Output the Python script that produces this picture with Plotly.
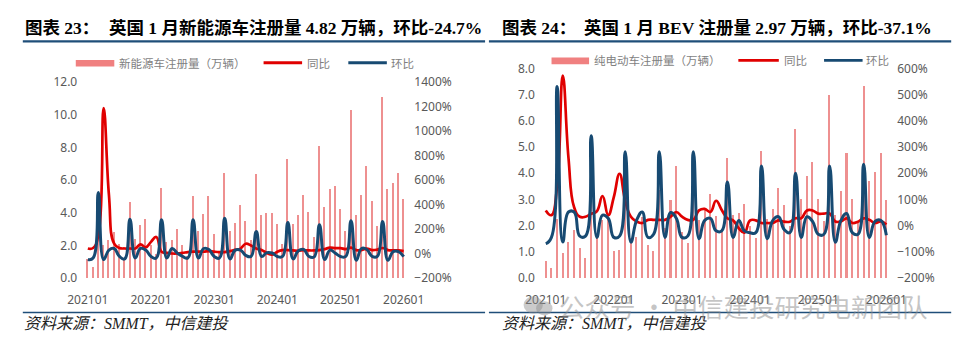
import plotly.graph_objects as go

# ---------------- data ----------------
months = [f"{y}{m:02d}" for y in range(2021, 2027) for m in range(1, 13)][:61]
year_ticks = ["202101", "202201", "202301", "202401", "202501", "202601"]

# Chart 23: UK NEV registrations (万辆), YoY %, MoM %
nev_reg = [1.15, 0.70, 4.10, 2.00, 2.30, 2.80, 2.10, 1.23, 4.66, 2.40, 3.26, 3.60,
           2.00, 1.47, 5.53, 2.20, 2.30, 3.03, 2.00, 1.35, 5.05, 2.87, 3.94, 5.05,
           2.68, 1.66, 6.43, 2.90, 3.36, 4.47, 3.50, 2.30, 6.37, 3.85, 4.00, 4.00,
           3.30, 2.10, 7.30, 3.30, 3.85, 5.07, 4.04, 2.50, 8.11, 4.37, 5.46, 5.65,
           4.23, 2.87, 10.30, 3.88, 5.09, 6.86, 4.72, 3.17, 11.09, 5.44, 5.79, 6.40,
           4.82]
nev_yoy = [41, 45, 150, 1187, 480, 80, 45, 41, 41, 41, 75, 50,
           95, 135, 15, 5, 0, 0, 5, 12, 15, 15, 15, 20,
           15, 12, 12, 20, 30, 40, 80, 65, 40, 28, 5, -10,
           15, 28, 28, 25, 22, 28, 25, 25, 28, 36, 48, 44,
           44, 36, 48, 28, 28, 40, 28, 32, 45, 28, 25, 25,
           20]
nev_mom = [-49, -37, 499, -49, 28, 41, -24, -44, 280, -37, 41, 28,
           -24, -37, 275, -37, 41, 3, -24, -37, 275, -37, 41, 33,
           -24, -37, 287, -44, 28, 28, -15, -24, 179, -24, 7, 4,
           -24, -24, 253, -44, 23, 33, -24, -27, 235, -49, 28, 3,
           -24, -24, 267, -55, 41, 33, -24, -24, 261, -55, 15, 15,
           -25]

# Chart 24: UK BEV registrations (万辆), YoY %, MoM %
bev_reg = [0.64, 0.38, 2.22, 0.93, 1.34, 1.80, 1.13, 0.76, 3.30, 1.55, 2.20, 2.40,
           1.00, 1.04, 3.90, 1.50, 1.55, 2.30, 1.25, 1.03, 3.35, 1.90, 2.95, 4.25,
           1.73, 1.30, 4.55, 2.20, 2.60, 3.19, 2.34, 1.73, 4.55, 2.40, 2.46, 2.80,
           1.98, 1.52, 4.85, 2.25, 2.60, 3.43, 2.76, 1.98, 5.67, 3.00, 3.89, 4.40,
           2.98, 2.16, 6.97, 2.40, 3.31, 4.74, 3.00, 2.10, 7.31, 3.67, 4.04, 4.74,
           2.97]
bev_yoy = [58, 40, 150, 573, 260, 70, 34, 34, 45, 55, 113, 40,
           110, 198, 95, 34, 16, 10, 22, 22, 22, 22, 34, 52,
           34, 22, 22, 58, 64, 52, 95, 60, 28, 20, -10, -27,
           20, 20, 10, 10, 10, 20, 15, 15, 28, 28, 58, 58,
           46, 46, 46, 16, 16, 28, 10, 15, 28, 22, 10, 16,
           4]
bev_mom = [-69, -45, 531, -63, 52, 52, -40, -40, 343, -45, 40, 28,
           -45, -40, 282, -63, 20, 52, -45, -33, 282, -45, 50, 28,
           -45, -40, 282, -50, 20, 28, -20, -20, 167, -45, 20, -20,
           -27, -27, 228, -50, 20, 34, -15, -27, 200, -45, 34, 16,
           -33, -33, 228, -63, 20, 46, -27, -33, 234, -45, 16, 20,
           -37]

# ---------------- style ----------------
W, H = 974, 351
BAR_C = "#EE9090"
RED_C = "#E00000"
BLUE_C = "#174A72"
TICK_FONT = dict(family="Noto Sans, DejaVu Sans", size=12, color="#595959")
LEG_FONT = dict(family="Noto Sans CJK SC", size=11.5, color="#7F7F7F")
TITLE_FONT = dict(family="Liberation Serif, Noto Sans CJK SC", size=17.5, color="#000000")
SRC_FONT = dict(family="Liberation Serif, Noto Sans CJK SC", size=16, color="#222222")
RULE_C = "#1F4E79"
SMOOTH = 1.3


def X(px):
    return px / W


def Y(py):
    return 1 - py / H


fig = go.Figure()

# left chart
fig.add_trace(go.Bar(x=months, y=nev_reg, marker=dict(color=BAR_C, line=dict(width=0)),
                     width=0.27, xaxis="x", yaxis="y", showlegend=False))
fig.add_trace(go.Scatter(x=months, y=nev_yoy, mode="lines",
                         line=dict(color=RED_C, width=2.7, shape="spline", smoothing=SMOOTH),
                         xaxis="x", yaxis="y2", showlegend=False))
fig.add_trace(go.Scatter(x=months, y=nev_mom, mode="lines",
                         line=dict(color=BLUE_C, width=3, shape="spline", smoothing=SMOOTH),
                         xaxis="x", yaxis="y2", showlegend=False))
# right chart
fig.add_trace(go.Bar(x=months, y=bev_reg, marker=dict(color=BAR_C, line=dict(width=0)),
                     width=0.27, xaxis="x2", yaxis="y3", showlegend=False))
fig.add_trace(go.Scatter(x=months, y=bev_yoy, mode="lines",
                         line=dict(color=RED_C, width=2.7, shape="spline", smoothing=SMOOTH),
                         xaxis="x2", yaxis="y4", showlegend=False))
fig.add_trace(go.Scatter(x=months, y=bev_mom, mode="lines",
                         line=dict(color=BLUE_C, width=3, shape="spline", smoothing=SMOOTH),
                         xaxis="x2", yaxis="y4", showlegend=False))

common_x = dict(type="category", range=[-0.5, 60.5], tickvals=year_ticks, ticktext=year_ticks,
                showgrid=False, zeroline=False, showline=False, ticks="",
                tickfont=TICK_FONT, ticklabelstandoff=13, fixedrange=True)
common_y = dict(showgrid=False, zeroline=False, showline=False, ticks="",
                tickfont=TICK_FONT, ticklabelstandoff=7, fixedrange=True)

fig.update_layout(
    width=W, height=H,
    margin=dict(l=0, r=0, t=0, b=0),
    paper_bgcolor="white", plot_bgcolor="rgba(0,0,0,0)",
    bargap=0,
    xaxis=dict(domain=[X(69.8), X(403.2)], anchor="y", **common_x),
    yaxis=dict(domain=[Y(282.7), Y(76.7)], anchor="x", range=[0, 12], dtick=2,
               tickformat=".1f", **common_y),
    yaxis2=dict(overlaying="y", side="right", anchor="x", range=[-200, 1400], dtick=200,
                ticksuffix="%", **common_y),
    xaxis2=dict(domain=[X(545.05), X(904.65)], anchor="y3", **common_x),
    yaxis3=dict(domain=[Y(282.7), Y(62.5)], anchor="x2", range=[0, 8], dtick=1,
                tickformat=".1f", **common_y),
    yaxis4=dict(overlaying="y3", side="right", anchor="x2", range=[-200, 600], dtick=100,
                ticksuffix="%", **common_y),
)

shapes = []
annotations = []

# title rules and bottom rules
for x0, x1 in [(5, 485), (489, 969)]:
    shapes.append(dict(type="line", xref="paper", yref="paper", x0=X(x0), x1=X(x1),
                       y0=Y(34), y1=Y(34), line=dict(color=RULE_C, width=2.2)))
    shapes.append(dict(type="line", xref="paper", yref="paper", x0=X(x0), x1=X(x1),
                       y0=Y(319), y1=Y(319), line=dict(color=RULE_C, width=1.6)))


def text(x, y, s, font, xanchor="left"):
    annotations.append(dict(xref="paper", yref="paper", x=X(x), y=Y(y), text=s,
                            showarrow=False, xanchor=xanchor, yanchor="middle",
                            font=font, align="left"))


# titles
text(5, 20, "<b>图表 23：</b>", TITLE_FONT)
text(92, 20, "<b>英国 1 月新能源车注册量 4.82 万辆，环比-24.7%</b>", TITLE_FONT)
text(500, 20, "<b>图表 24：</b>", TITLE_FONT)
text(586, 20, "<b>英国 1 月 BEV 注册量 2.97 万辆，环比-37.1%</b>", TITLE_FONT)

# sources
text(4, 331, "<i>资料来源：SMMT，中信建投</i>", SRC_FONT)
text(500, 331, "<i>资料来源：SMMT，中信建投</i>", SRC_FONT)


# legends (manual)
def legend(rx0, rx1, ry, label_bar, lx, bx0, bx1, tx_tb, hx0, hx1, tx_hb, ty):
    shapes.append(dict(type="rect", xref="paper", yref="paper", x0=X(rx0), x1=X(rx1),
                       y0=Y(ry + 3.5), y1=Y(ry - 3.5), fillcolor="#F08080", line=dict(width=0)))
    text(lx, ty, label_bar, LEG_FONT)
    shapes.append(dict(type="line", xref="paper", yref="paper", x0=X(bx0), x1=X(bx1),
                       y0=Y(ty), y1=Y(ty), line=dict(color=RED_C, width=2.8)))
    text(tx_tb, ty, "同比", LEG_FONT)
    shapes.append(dict(type="line", xref="paper", yref="paper", x0=X(hx0), x1=X(hx1),
                       y0=Y(ty), y1=Y(ty), line=dict(color=BLUE_C, width=2.8)))
    text(tx_hb, ty, "环比", LEG_FONT)


legend(60, 100, 57, "新能源车注册量（万辆）", 103, 255, 295, 298, 343, 383, 385, 56.5)
legend(554, 593, 54.5, "纯电动车注册量（万辆）", 596, 748, 790, 793, 837, 877, 878, 54)

# watermark
shapes.append(dict(type="circle", xref="paper", yref="paper", x0=X(525), x1=X(545),
                   y0=Y(320), y1=Y(302), fillcolor="rgba(140,140,140,0.45)", line=dict(width=0)))
shapes.append(dict(type="circle", xref="paper", yref="paper", x0=X(538), x1=X(555),
                   y0=Y(322), y1=Y(307), fillcolor="rgba(140,140,140,0.45)", line=dict(width=0)))
annotations.append(dict(xref="paper", yref="paper", x=X(560), y=Y(312),
                        text="公众号 · 中信建投研究电新团队", showarrow=False,
                        xanchor="left", yanchor="middle",
                        font=dict(family="Noto Sans CJK SC", size=25.5, color="rgba(140,140,140,0.5)")))

fig.update_layout(shapes=shapes, annotations=annotations)
fig.write_html("out.html")
